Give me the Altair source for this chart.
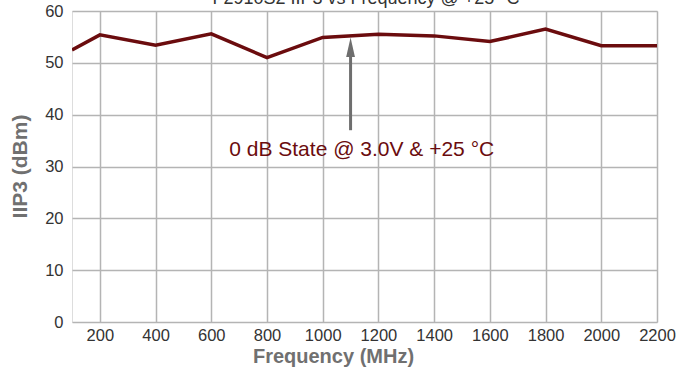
import altair as alt
import pandas as pd

freq = [100, 200, 400, 600, 800, 1000, 1200, 1400, 1600, 1800, 2000, 2200]
iip3 = [52.5, 55.4, 53.4, 55.6, 51.0, 54.9, 55.5, 55.2, 54.1, 56.5, 53.3, 53.3]

x_ticks = [200, 400, 600, 800, 1000, 1200, 1400, 1600, 1800, 2000, 2200]
y_ticks = [0, 10, 20, 30, 40, 50, 60]

title_text = ["F2910S2 IIP3 vs Frequency @ +25 °C"]
annot_text = ["0 dB State @ 3.0V & +25 °C"]
annot_pos = [1140, 33.2]
arrow_x = [1100]
arrow_y = [37.0, 51.5]
arrow_head_y = [53.0]

FONT = "Liberation Sans"
LINE = "#6b0c0e"
GRID = "#b4b4b4"

df = pd.DataFrame({"freq": freq, "iip3": iip3})

xs = alt.Scale(domain=[100, 2200], nice=False, zero=False)
ys = alt.Scale(domain=[0, 60], nice=False)

base = alt.Chart(df)

line = base.mark_line(color=LINE, strokeWidth=3.5, clip=True).encode(
    x=alt.X("freq:Q", scale=xs,
            axis=alt.Axis(values=x_ticks, format="d", title="Frequency (MHz)", grid=True,
                          gridColor=GRID, gridWidth=1.5, ticks=False, domain=False,
                          labelFont=FONT, labelFontSize=16.5, labelColor="#333333",
                          labelPadding=5, labelFlush=False,
                          titleFont=FONT, titleFontSize=20, titleFontWeight="bold",
                          titleColor="#707070", titleX=261, titleY=40,
                          titleBaseline="alphabetic")),
    y=alt.Y("iip3:Q", scale=ys,
            axis=alt.Axis(values=y_ticks, format="d", title="IIP3 (dBm)", grid=True,
                          gridColor=GRID, gridWidth=1.5, ticks=False, domain=False,
                          labelFont=FONT, labelFontSize=16.5, labelColor="#333333",
                          labelPadding=9,
                          titleFont=FONT, titleFontSize=21, titleFontWeight="bold",
                          titleColor="#707070", titleX=-52, titleY=155,
                          titleAlign="center", titleBaseline="middle")),
)

arrow_df = pd.DataFrame({"x": arrow_x, "y": [arrow_y[0]], "y2": [arrow_y[1]]})
arrow = alt.Chart(arrow_df).mark_rule(color="#6e6e6e", strokeWidth=3).encode(
    x=alt.X("x:Q", scale=xs), y=alt.Y("y:Q", scale=ys), y2="y2:Q"
)
head_df = pd.DataFrame({"x": arrow_x, "y": arrow_head_y})
head = alt.Chart(head_df).mark_point(
    shape="M0,-1L0.45,1L-0.45,1Z", size=380, filled=True, color="#6e6e6e", opacity=1
).encode(x=alt.X("x:Q", scale=xs), y=alt.Y("y:Q", scale=ys))

annot_df = pd.DataFrame({"x": [annot_pos[0]], "y": [annot_pos[1]], "t": annot_text})
annot = alt.Chart(annot_df).mark_text(
    font=FONT, fontSize=21, color="#6b0c0e", align="center", baseline="middle"
).encode(x=alt.X("x:Q", scale=xs), y=alt.Y("y:Q", scale=ys), text="t:N")

title_df = pd.DataFrame({"t": title_text})
title = alt.Chart(title_df).mark_text(
    font=FONT, fontSize=18, color="#333333", align="center", baseline="alphabetic"
).encode(x=alt.value(294), y=alt.value(-7), text="t:N")

chart = alt.layer(line, arrow, head, annot, title).properties(
    width=585, height=311,
    autosize=alt.AutoSizeParams(type="none"),
    padding={"left": 72, "top": 11, "right": 21, "bottom": 48},
).configure_view(stroke="#a6a6a6", strokeWidth=3).configure(background="white")

chart.save("out.html", embed_options={"renderer": "svg", "actions": False})
